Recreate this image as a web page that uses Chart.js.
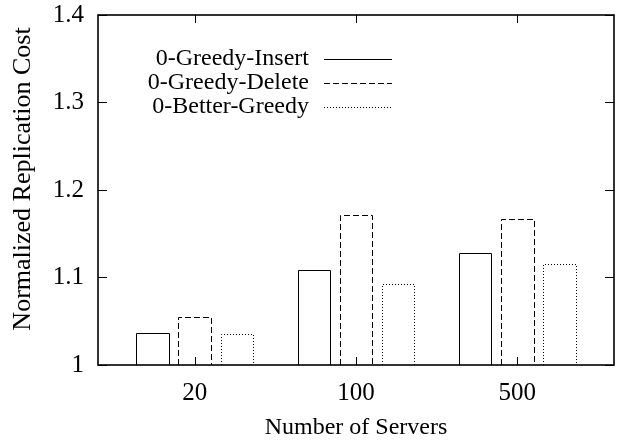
<!DOCTYPE html>
<html>
<head>
<meta charset="utf-8">
<script src="https://cdn.jsdelivr.net/npm/chart.js@4.4.1/dist/chart.umd.min.js"></script>
<style>
  html, body { margin: 0; padding: 0; background: #fff; }
</style>
</head>
<body>
<canvas id="costChart" width="619" height="440"></canvas>
<script>
// values
const servers = ['20', '100', '500'];
const greedyInsert = [1.037, 1.109, 1.128];
const greedyDelete = [1.055, 1.172, 1.167];
const betterGreedy = [1.035, 1.093, 1.115];
const yTicks = [1, 1.1, 1.2, 1.3, 1.4];

const FONT = "'Liberation Serif', 'Times New Roman', serif";

function points(values) {
    return values.map((v, i) => ({ x: i, y: v }));
}

// gnuplot-ish outlined bars: solid / dashed / dotted
const outlineBars = {
    id: 'outlineBars',
    afterDatasetsDraw(chart) {
        const ctx = chart.ctx;
        const bottom = chart.chartArea.bottom;
        ctx.save();
        ctx.strokeStyle = '#000';
        ctx.lineWidth = 1;
        chart.data.datasets.forEach((ds, di) => {
            const meta = chart.getDatasetMeta(di);
            ctx.setLineDash(ds.dash);
            meta.data.forEach(bar => {
                const p = bar.getProps(['x', 'y', 'width'], true);
                const l = Math.round(p.x - p.width / 2) + 0.5;
                const r = Math.round(p.x + p.width / 2) + 0.5;
                const t = Math.round(p.y) + 0.5;
                ctx.beginPath();
                ctx.moveTo(l, bottom);
                ctx.lineTo(l, t);
                ctx.lineTo(r, t);
                ctx.lineTo(r, bottom);
                ctx.stroke();
            });
        });
        ctx.restore();
    }
};

// box around the plot with inward, mirrored tics, plus the y label
const frame = {
    id: 'frame',
    afterDraw(chart) {
        const { ctx, chartArea: a, scales } = chart;
        ctx.save();
        ctx.strokeStyle = '#000';
        ctx.lineWidth = 1;
        ctx.setLineDash([]);
        ctx.beginPath();
        yTicks.forEach(v => {
            const py = Math.round(scales.y.getPixelForValue(v)) + 0.5;
            ctx.moveTo(a.left, py); ctx.lineTo(a.left + 9, py);
            ctx.moveTo(a.right, py); ctx.lineTo(a.right - 9, py);
        });
        servers.forEach((s, i) => {
            const px = Math.round(scales.x.getPixelForValue(i)) + 0.5;
            ctx.moveTo(px, a.bottom); ctx.lineTo(px, a.bottom - 8);
            ctx.moveTo(px, a.top); ctx.lineTo(px, a.top + 8);
        });
        ctx.stroke();
        ctx.lineWidth = 1.6;
        ctx.strokeRect(a.left, a.top, a.right - a.left, a.bottom - a.top);

        ctx.translate(23, 179);
        ctx.rotate(-Math.PI / 2);
        ctx.font = '26px ' + FONT;
        ctx.fillStyle = '#000';
        ctx.textAlign = 'center';
        ctx.textBaseline = 'middle';
        ctx.fillText('Normalized Replication Cost', 0, 0);
        ctx.restore();
    }
};

// key inside the plot: right-aligned text, sample line after it
const key = {
    id: 'key',
    afterDraw(chart) {
        const ctx = chart.ctx;
        ctx.save();
        ctx.font = '24px ' + FONT;
        ctx.fillStyle = '#000';
        ctx.strokeStyle = '#000';
        ctx.lineWidth = 1;
        ctx.textAlign = 'right';
        ctx.textBaseline = 'middle';
        chart.data.datasets.forEach((ds, i) => {
            const y = 59 + i * 24;
            ctx.fillText(ds.label, 309, y);
            ctx.setLineDash(ds.dash);
            ctx.beginPath();
            ctx.moveTo(324, Math.round(y) + 0.5);
            ctx.lineTo(392, Math.round(y) + 0.5);
            ctx.stroke();
        });
        ctx.restore();
    }
};

const ctx = document.getElementById('costChart').getContext('2d');
const costChart = new Chart(ctx, {
    type: 'bar',
    data: {
        datasets: [
            { label: '0-Greedy-Insert', data: points(greedyInsert), dash: [] },
            { label: '0-Greedy-Delete', data: points(greedyDelete), dash: [6, 3] },
            { label: '0-Better-Greedy', data: points(betterGreedy), dash: [1, 2] }
        ].map(d => Object.assign(d, {
            backgroundColor: 'rgba(0,0,0,0)',
            borderWidth: 0,
            categoryPercentage: 0.783,
            barPercentage: 0.774
        }))
    },
    options: {
        responsive: false,
        devicePixelRatio: 1,
        animation: false,
        layout: { padding: { top: 15, right: 5, left: 0, bottom: 0 } },
        plugins: {
            legend: { display: false },
            tooltip: { enabled: false }
        },
        scales: {
            x: {
                type: 'linear',
                offset: false,
                min: -0.6,
                max: 2.6,
                afterBuildTicks: scale => { scale.ticks = servers.map((s, i) => ({ value: i })); },
                afterFit: scale => { scale.height = 75; },
                grid: { display: false, drawTicks: false },
                border: { display: false },
                ticks: {
                    callback: v => servers[v],
                    autoSkip: false,
                    maxRotation: 0,
                    padding: 13,
                    color: '#000',
                    font: { family: FONT, size: 25 }
                },
                title: {
                    display: true,
                    text: 'Number of Servers',
                    color: '#000',
                    padding: 0,
                    font: { family: FONT, size: 24, lineHeight: 1 }
                }
            },
            y: {
                min: 1,
                max: 1.4,
                afterBuildTicks: scale => { scale.ticks = yTicks.map(v => ({ value: v })); },
                afterFit: scale => {
                    scale.width = 98;
                    scale.paddingTop = 0;
                    scale.paddingBottom = 0;
                },
                grid: { display: false, drawTicks: false },
                border: { display: false },
                ticks: {
                    callback: v => String(v),
                    padding: 14,
                    color: '#000',
                    font: { family: FONT, size: 25 }
                }
            }
        }
    },
    plugins: [outlineBars, frame, key]
});
</script>
</body>
</html>
